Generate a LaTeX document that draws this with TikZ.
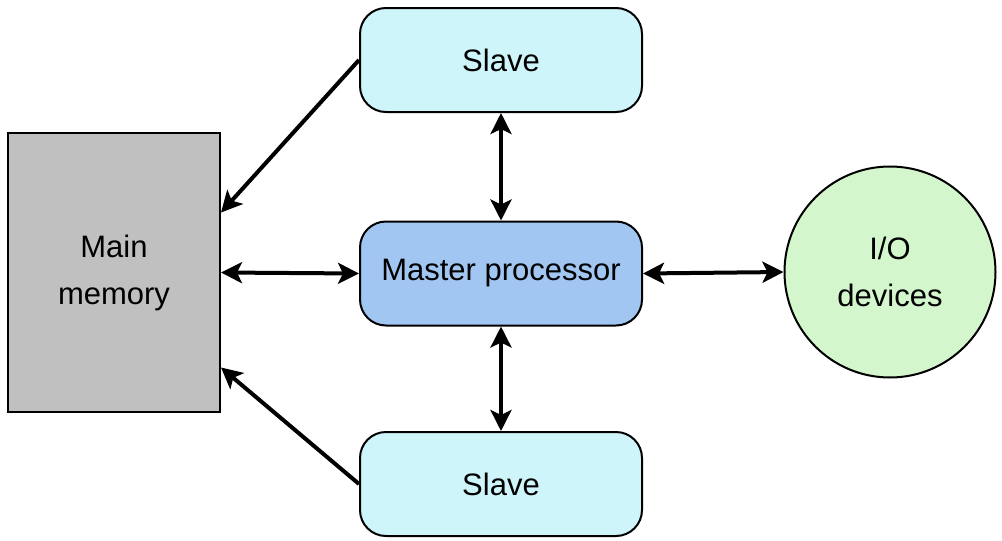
\documentclass[tikz,border=0pt]{standalone}
\usepackage{fontspec}
\setmainfont{Liberation Sans}
\usetikzlibrary{arrows.meta,positioning}
\definecolor{slavefill}{RGB}{206,246,250}
\definecolor{masterfill}{RGB}{162,198,242}
\definecolor{iofill}{RGB}{212,246,204}
\definecolor{memfill}{RGB}{192,192,192}
\tikzset{
  boxtext/.style={font=\fontsize{31}{47}\selectfont, align=center, inner sep=0pt},
  slavebox/.style={boxtext, draw, line width=2pt, fill=slavefill, rounded corners=26pt, minimum width=282pt, minimum height=104pt},
  masterbox/.style={boxtext, draw, line width=2pt, fill=masterfill, rounded corners=26pt, minimum width=282pt, minimum height=104pt},
  membox/.style={boxtext, draw, line width=2pt, fill=memfill, minimum width=212pt, minimum height=279pt},
  iobox/.style={boxtext, draw, line width=2pt, fill=iofill, circle, minimum size=211pt},
  link/.style={line width=4pt, -{Stealth[length=21pt,width=21pt,inset=5pt]}},
  dlink/.style={line width=4pt, {Stealth[length=21pt,width=21pt,inset=5pt]}-{Stealth[length=21pt,width=21pt,inset=5pt]}}
}
\begin{document}
\begin{tikzpicture}[x=1pt,y=-1pt]
\useasboundingbox (0,0) rectangle (1002,541);
\node[membox] (mem) at (114,272.5) {Main\\memory};
\node[slavebox] (s1) at (501,60) {Slave};
\node[masterbox] (m) at (501,273.5) {Master processor};
\node[slavebox] (s2) at (501,484) {Slave};
\node[iobox] (io) at (890,272) {I/O\\devices};
\draw[link] (s1.west) -- ([yshift=60pt]mem.east);
\draw[link] (s2.west) -- ([yshift=-95pt]mem.east);
\draw[dlink] (mem.east) -- (m.west);
\draw[dlink] (s1.south) -- (m.north);
\draw[dlink] (m.south) -- (s2.north);
\draw[dlink] (m.east) -- (io.west);
\end{tikzpicture}
\end{document}
